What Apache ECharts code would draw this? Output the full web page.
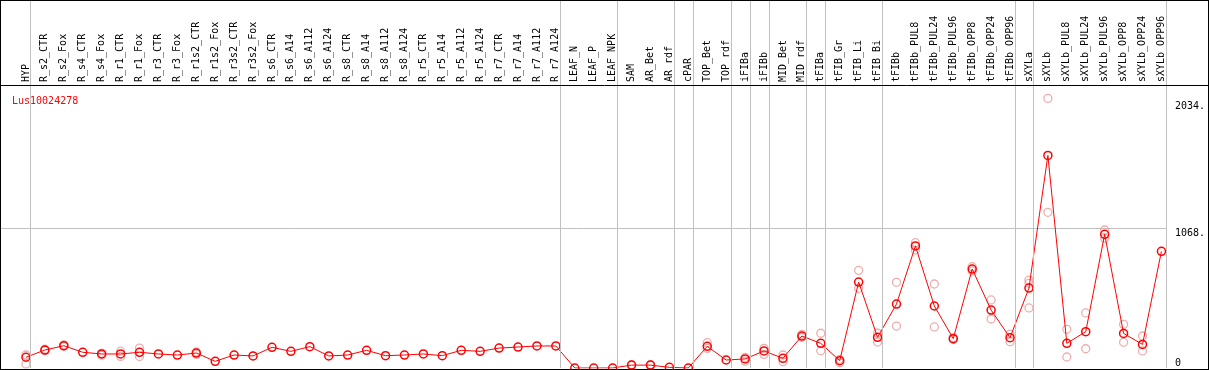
<!DOCTYPE html>
<html>
<head>
<meta charset="utf-8">
<script src="https://cdn.jsdelivr.net/npm/echarts@6.0.0/dist/echarts.min.js"></script>
<style>
  body { margin: 0; background: #fff; }
  #chart { width: 1209px; height: 370px; box-sizing: border-box; border: 1px solid #000; }
</style>
</head>
<body>
<div id="chart"></div>
<script>
// gene shown in the corner
const geneName = 'Lus10024278';

const categories = [
    'HYP', 'R_s2_CTR', 'R_s2_Fox', 'R_s4_CTR', 'R_s4_Fox', 'R_r1_CTR', 'R_r1_Fox', 'R_r3_CTR', 'R_r3_Fox',
    'R_r1s2_CTR', 'R_r1s2_Fox', 'R_r3s2_CTR', 'R_r3s2_Fox', 'R_s6_CTR', 'R_s6_A14', 'R_s6_A112', 'R_s6_A124',
    'R_s8_CTR', 'R_s8_A14', 'R_s8_A112', 'R_s8_A124', 'R_r5_CTR', 'R_r5_A14', 'R_r5_A112', 'R_r5_A124',
    'R_r7_CTR', 'R_r7_A14', 'R_r7_A112', 'R_r7_A124', 'LEAF_N', 'LEAF_P', 'LEAF_NPK', 'SAM', 'AR_Bet', 'AR_rdf',
    'cPAR', 'TOP_Bet', 'TOP_rdf', 'iFIBa', 'iFIBb', 'MID_Bet', 'MID_rdf', 'tFIBa', 'tFIB_Gr', 'tFIB_Li', 'tFIB_Bi',
    'tFIBb', 'tFIBb_PUL8', 'tFIBb_PUL24', 'tFIBb_PUL96', 'tFIBb_OPP8', 'tFIBb_OPP24', 'tFIBb_OPP96',
    'sXYLa', 'sXYLb', 'sXYLb_PUL8', 'sXYLb_PUL24', 'sXYLb_PUL96', 'sXYLb_OPP8', 'sXYLb_OPP24', 'sXYLb_OPP96'
];

// mean expression (red line)
const meanValues = [
    82, 137, 170, 120, 107, 107, 120, 107, 99,
    114, 51, 99, 92, 158, 127, 163, 92,
    99, 135, 94, 99, 107, 94, 135, 127,
    152, 160, 168, 168, 0, 0, 0, 22, 22, 5,
    0, 165, 61, 69, 130, 74, 244, 188, 56, 656, 234,
    488, 931, 473, 224, 755, 442, 231,
    610, 1622, 188, 277, 1020, 264, 180, 890
];

// replicates (faded circles)
const rep1 = [
    99, 143, 176, null, 112, 128, 152, null, null,
    122, null, null, null, null, null, null, null,
    null, null, null, null, null, null, null, null,
    null, null, null, null, null, null, null, 25, 25, null,
    null, 193, null, 81, 150, 99, 257, 265, 66, 745, 265,
    654, 956, 641, 232, 773, 519, 259,
    671, 2057, 295, 420, 1053, 333, 244, null
];
const rep2 = [
    31, 133, 166, null, 98, 88, 88, null, null,
    104, null, null, null, null, null, null, null,
    null, null, null, null, null, null, null, null,
    null, null, null, null, null, null, null, 20, 20, null,
    null, 150, null, 52, 104, 48, 234, 132, 40, 608, 198,
    320, 900, 313, 218, 740, 374, 201,
    458, 1188, 84, 147, 989, 196, 130, null
];
const rep3 = [
    null, null, null, null, null, null, null, null, null,
    null, null, null, null, null, null, null, null,
    null, null, null, null, null, null, null, null,
    null, null, null, null, null, null, null, null, null, null,
    null, null, null, null, null, null, null, null, null, null, null,
    null, null, null, null, null, null, null,
    646, null, null, null, null, null, null, null
];

// index of the last category in each group (gray separators)
const groupEnds = [-1, 0, 28, 31, 34, 35, 37, 38, 39, 41, 42, 45, 52, 53, 60];
const yLabelsTop = [1068, 2034];
const yLabelsBottom = [0];
const gridValue = 1068;
const yMax = 2800;

const mono = 'DejaVu Sans Mono';
const headerY = 84.5;
const plotH = 283;

const chart = echarts.init(document.getElementById('chart'));

const repSeries = [rep1, rep2, rep3].map(rep => ({
    type: 'scatter',
    data: rep,
    symbol: 'circle',
    symbolSize: 8,
    itemStyle: {color: 'none', borderColor: '#ea9898', borderWidth: 1.3},
    z: 2,
    silent: true
}));

const option = {
    animation: false,
    title: {
        text: geneName,
        left: 6,
        top: 90,
        textStyle: {color: '#ff0000', fontSize: 10, fontWeight: 'normal', fontFamily: mono}
    },
    grid: {left: 15.5, right: 32.5, top: 0, bottom: 1},
    xAxis: [
        {
            type: 'category',
            data: categories,
            position: 'bottom',
            offset: -plotH,
            boundaryGap: true,
            axisLine: {show: false},
            axisTick: {show: false},
            splitLine: {show: false},
            axisLabel: {
                inside: true,
                rotate: 90,
                interval: 0,
                margin: 3,
                fontSize: 10,
                fontFamily: mono,
                color: '#000'
            }
        },
        {
            type: 'value',
            min: -0.5,
            max: categories.length - 0.5,
            show: false
        }
    ],
    yAxis: [
        {
            type: 'value',
            min: 0,
            max: yMax,
            position: 'right',
            axisLine: {show: false},
            axisTick: {show: false},
            splitLine: {show: false},
            axisLabel: {
                customValues: yLabelsTop,
                formatter: v => v + '.',
                verticalAlign: 'top',
                align: 'left',
                margin: 4,
                fontSize: 10,
                fontFamily: mono,
                color: '#000'
            }
        },
        {
            type: 'value',
            min: 0,
            max: yMax,
            position: 'right',
            axisLine: {show: false},
            axisTick: {show: false},
            splitLine: {show: false},
            axisLabel: {
                customValues: yLabelsBottom,
                formatter: v => String(v),
                verticalAlign: 'bottom',
                align: 'left',
                margin: 4,
                fontSize: 10,
                fontFamily: mono,
                color: '#000'
            }
        }
    ],
    series: [
        {
            type: 'line',
            xAxisIndex: 1,
            data: [],
            silent: true,
            z: 1,
            markLine: {
                silent: true,
                symbol: 'none',
                label: {show: false},
                lineStyle: {color: '#c0c0c0', width: 1, type: 'solid'},
                data: groupEnds.map(i => ({xAxis: i + 0.25}))
            }
        },
        ...repSeries,
        {
            type: 'line',
            data: meanValues,
            symbol: 'circle',
            symbolSize: 8,
            showAllSymbol: true,
            itemStyle: {color: 'none', borderColor: '#ff0000', borderWidth: 1.5},
            lineStyle: {color: '#ff0000', width: 1},
            z: 3,
            silent: true
        }
    ]
};

chart.setOption(option);

// frame lines: header separator and the horizontal level line
const yGrid = Math.round(chart.convertToPixel({yAxisIndex: 0}, gridValue)) + 0.5;
const xRight = chart.convertToPixel({xAxisIndex: 1}, groupEnds[groupEnds.length - 1] + 0.25);
chart.setOption({
    graphic: [
        {
            type: 'line',
            z: 0,
            shape: {x1: 0, y1: yGrid, x2: xRight, y2: yGrid},
            style: {stroke: '#c0c0c0', lineWidth: 1}
        },
        {
            type: 'line',
            z: 10,
            shape: {x1: 0, y1: headerY, x2: chart.getWidth(), y2: headerY},
            style: {stroke: '#000', lineWidth: 1}
        }
    ]
});
</script>
</body>
</html>
